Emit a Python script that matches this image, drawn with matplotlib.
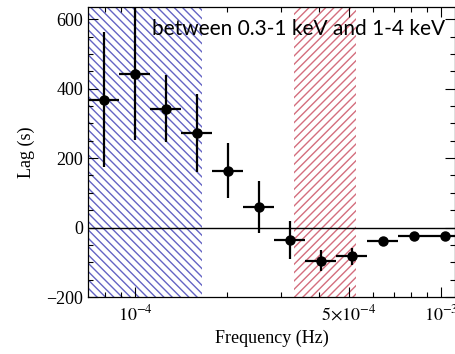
import matplotlib
matplotlib.use("Agg")
import matplotlib.pyplot as plt
from matplotlib.ticker import MultipleLocator, FixedLocator, LogLocator, NullFormatter, FixedFormatter
import numpy as np

# Data
freq = [7.89e-5, 1.0e-4, 1.258e-4, 1.589e-4, 2.006e-4, 2.533e-4,
        3.198e-4, 4.04e-4, 5.10e-4, 6.44e-4, 8.13e-4, 1.027e-3]
freq_lo = [7.02e-5, 8.87e-5, 1.119e-4, 1.413e-4, 1.784e-4, 2.253e-4,
           2.845e-4, 3.593e-4, 4.537e-4, 5.73e-4, 7.236e-4, 9.137e-4]
freq_hi = [8.87e-5, 1.119e-4, 1.413e-4, 1.784e-4, 2.253e-4, 2.845e-4,
           3.593e-4, 4.537e-4, 5.73e-4, 7.236e-4, 9.137e-4, 1.153e-3]
lag = [368, 443, 342, 273, 164, 60, -35, -95, -83, -40, -23, -23]
lag_err = [195, 190, 97, 112, 78, 75, 55, 29, 25, 14, 6, 6]

blue_band = (7.0e-5, 1.656e-4)
red_band = (3.308e-4, 5.275e-4)
annotation = "between 0.3-1 keV and 1-4 keV"
xtick_vals = [1e-4, 5e-4, 1e-3]
xtick_labels = [r'$10^{-4}$', r'$5{\times}10^{-4}$', r'$10^{-3}$']

plt.rcParams['hatch.linewidth'] = 1.0
plt.rcParams['font.family'] = ['Liberation Serif', 'DejaVu Serif']
plt.rcParams['mathtext.fontset'] = 'stix'
plt.rcParams['font.size'] = 13

fig = plt.figure(figsize=(4.56, 3.54), dpi=100)
ax = fig.add_axes([88/456, 57/354, (455-88)/456, 290/354])

ax.set_xscale('log')
ax.set_xlim(7.02e-5, 1.111e-3)
ax.set_ylim(-200, 635)

ax.axvspan(*blue_band, facecolor='none', edgecolor='#6464c4', hatch='\\\\\\\\', linewidth=0, zorder=0)
ax.axvspan(*red_band, facecolor='none', edgecolor='#d46e7e', hatch='////', linewidth=0, zorder=0)
ax.axhline(0, color='black', linewidth=1.0, zorder=1)

f = np.array(freq)
xerr = [f - np.array(freq_lo), np.array(freq_hi) - f]
ax.errorbar(freq, lag, xerr=xerr, yerr=lag_err, fmt='o', color='black',
            markersize=6.5, elinewidth=1.6, capsize=0, zorder=3)

ax.text(0.174, 0.905, annotation, transform=ax.transAxes, fontsize=15,
        family=['Lato', 'DejaVu Sans'], va='baseline', ha='left', zorder=4)

ax.yaxis.set_major_locator(MultipleLocator(200))
ax.yaxis.set_minor_locator(MultipleLocator(50))
ax.xaxis.set_major_locator(FixedLocator(xtick_vals))
ax.xaxis.set_major_formatter(FixedFormatter(xtick_labels))
ax.xaxis.set_minor_locator(LogLocator(base=10, subs=np.arange(2, 10)))
ax.xaxis.set_minor_formatter(NullFormatter())

ax.tick_params(which='both', direction='in', top=True, right=True, labelsize=13)
ax.tick_params(which='major', length=7, width=0.8)
ax.tick_params(which='minor', length=3.5, width=0.8)
ax.tick_params(axis='x', pad=5)

ax.set_xlabel('Frequency (Hz)', fontsize=13, labelpad=4)
ax.set_ylabel('Lag (s)', fontsize=13, labelpad=8)

for s in ax.spines.values():
    s.set_linewidth(0.9)

fig.savefig('out.png', dpi=100)
